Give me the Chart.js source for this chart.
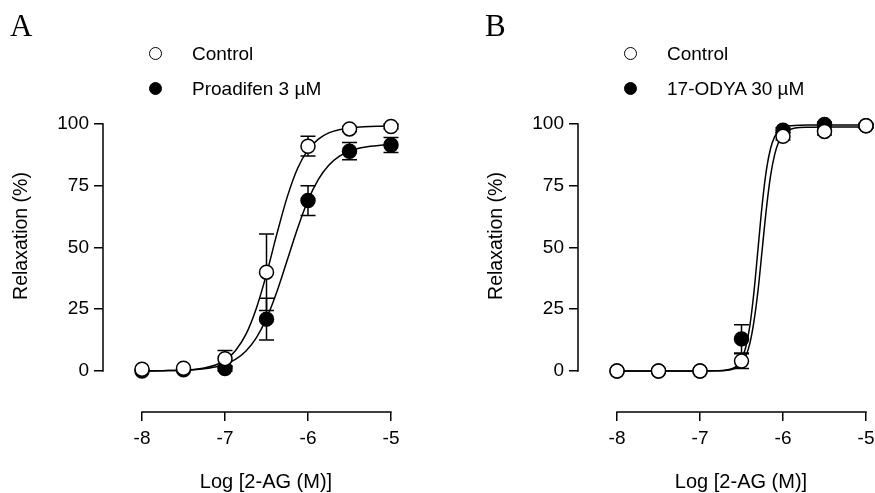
<!DOCTYPE html>
<html>
<head>
<meta charset="utf-8">
<script src="https://cdn.jsdelivr.net/npm/chart.js@4.4.1/dist/chart.umd.min.js"></script>
<style>
  body { margin: 0; background: #fff; }
  #wrap { position: relative; width: 875px; height: 493px; overflow: hidden; }
  canvas { position: absolute; left: 0; top: 0; }
  .txt { position: absolute; font-family: "Liberation Sans", Arial, sans-serif; color: #000; line-height: 1; white-space: nowrap; }
  .panel { position: absolute; font-family: "Liberation Serif", "Times New Roman", serif; font-size: 31px; line-height: 1; color: #000; }
  .dot { position: absolute; width: 13px; height: 13px; box-sizing: border-box; border: 1.5px solid #000; border-radius: 50%; background: #fff; }
  .dot.filled { background: #000; }
  .xtitle { width: 240px; text-align: center; font-size: 20px; }
  .ytitle { width: 200px; height: 20px; font-size: 19.5px; line-height: 20px; text-align: center; transform: rotate(-90deg); }
</style>
</head>
<body>
<div id="wrap">
  <canvas id="chartA" width="875" height="493"></canvas>
  <canvas id="chartB" width="875" height="493"></canvas>

  <div class="panel" style="left:10px;top:9.5px">A</div>
  <div class="panel" style="left:485px;top:9.5px">B</div>

  <div class="dot" style="left:148.5px;top:47px"></div>
  <div class="txt" style="left:192px;top:44px;font-size:19px">Control</div>
  <div class="dot filled" style="left:148.5px;top:82px"></div>
  <div class="txt" style="left:192px;top:79px;font-size:19px">Proadifen 3 &micro;M</div>

  <div class="dot" style="left:623.5px;top:47px"></div>
  <div class="txt" style="left:667px;top:44px;font-size:19px">Control</div>
  <div class="dot filled" style="left:623.5px;top:82px"></div>
  <div class="txt" style="left:667px;top:79px;font-size:19px">17-ODYA 30 &micro;M</div>

  <div class="txt ytitle" style="left:-80.5px;top:226px">Relaxation (%)</div>
  <div class="txt ytitle" style="left:394.5px;top:226px">Relaxation (%)</div>

  <div class="txt xtitle" style="left:146px;top:471px">Log [2-AG (M)]</div>
  <div class="txt xtitle" style="left:621px;top:471px">Log [2-AG (M)]</div>
</div>

<script>
// log dose of 2-AG
const doses = [-8, -7.5, -7, -6.5, -6, -5.5, -5];
const xTicks = [-8, -7, -6, -5];
const yTicks = [0, 25, 50, 75, 100];

// panel A: mean and SEM
const controlA = [0.7, 1.1, 5, 40, 91, 98, 99];
const controlAErr = [0, 0, 3.3, 15.5, 4, 1, 1];
const proadifen = [0, 0.5, 1, 21, 69, 89, 91.5];
const proadifenErr = [0, 0, 1, 8.5, 6, 3.5, 3];

// panel B: mean and SEM
const controlB = [0, 0, 0, 4, 95, 97, 99.3];
const controlBErr = [0, 0, 0, 3, 1.5, 1.5, 0.5];
const odya = [0, 0, 0, 13, 97.5, 99.8, 99.3];
const odyaErr = [0, 0, 0, 5.7, 1, 1, 1];

// fitted curves
const curveDosesA = [-8, -7.875, -7.75, -7.625, -7.5, -7.375, -7.25, -7.125, -7, -6.875, -6.75, -6.625, -6.5,
  -6.375, -6.25, -6.125, -6, -5.875, -5.75, -5.625, -5.5, -5.375, -5.25, -5.125, -5];
const controlFitA = [0.0, 0.0, 0.1, 0.2, 0.3, 0.6, 1.2, 2.3, 4.3, 8.2, 14.7, 25.1, 39.2,
  55.5, 70.5, 82.1, 89.5, 93.9, 96.4, 97.7, 98.4, 98.8, 99.0, 99.1, 99.2];
const proadifenFitA = [0.0, 0.1, 0.1, 0.2, 0.3, 0.5, 0.9, 1.6, 2.7, 4.7, 8.0, 13.3, 21.3,
  32.1, 44.9, 57.8, 69.1, 77.6, 83.3, 86.9, 89.0, 90.3, 91.0, 91.4, 91.7];

const curveDosesB = [-8, -7.75, -7.5, -7.25, -7, -6.8, -6.7, -6.6, -6.55, -6.5, -6.45, -6.4, -6.35, -6.3,
  -6.25, -6.2, -6.15, -6.1, -6.05, -6, -5.95, -5.9, -5.8, -5.7, -5.5, -5.25, -5];
const controlFitB = [0, 0, 0, 0, 0, 0.1, 0.2, 0.8, 1.6, 3.0, 5.9, 11.1, 20.1, 32.9,
  49.4, 65.8, 79.0, 87.7, 92.9, 95.8, 97.3, 98.0, 98.6, 98.7, 98.8, 98.8, 98.8];
const odyaFitB = [0, 0, 0, 0, 0, 0.1, 0.3, 1.1, 2.3, 4.7, 9.5, 18.2, 32.0, 49.8,
  67.6, 81.4, 90.1, 94.9, 97.3, 98.5, 99.1, 99.3, 99.5, 99.6, 99.6, 99.6, 99.6];

const FONT = '"Liberation Sans", Arial, sans-serif';

function pts(xs, ys) {
    return xs.map((x, i) => ({ x: x, y: ys[i] }));
}

// prism style axes (lines only over the tick range) + error bars
const prismAxes = {
    id: 'prismAxes',
    beforeDatasetsDraw(chart, args, opts) {
        const { ctx } = chart;
        const x = chart.scales.x, y = chart.scales.y;
        ctx.save();
        ctx.strokeStyle = '#000';
        ctx.lineWidth = 1.5;
        ctx.beginPath();
        ctx.moveTo(x.left, y.getPixelForValue(yTicks[yTicks.length - 1]) - 0.75);
        ctx.lineTo(x.left, y.getPixelForValue(yTicks[0]) + 0.75);
        ctx.moveTo(x.getPixelForValue(xTicks[0]) - 0.75, y.bottom);
        ctx.lineTo(x.getPixelForValue(xTicks[xTicks.length - 1]) + 0.75, y.bottom);
        ctx.stroke();

        ctx.lineWidth = 1.5;
        opts.series.forEach(s => {
            doses.forEach((d, i) => {
                const e = s.err[i];
                if (!e) return;
                const px = x.getPixelForValue(d);
                const top = y.getPixelForValue(s.mean[i] + e);
                const bot = y.getPixelForValue(s.mean[i] - e);
                ctx.beginPath();
                ctx.moveTo(px, top);
                ctx.lineTo(px, bot);
                ctx.moveTo(px - 7.5, top);
                ctx.lineTo(px + 7.5, top);
                ctx.moveTo(px - 7.5, bot);
                ctx.lineTo(px + 7.5, bot);
                ctx.stroke();
            });
        });
        ctx.restore();
    }
};

function makePanel(id, offsetX, ctrl, ctrlErr, trt, trtErr, fitX, ctrlFit, trtFit) {
    const axisStyle = {
        border: { display: false },
        grid: { drawOnChartArea: false, color: '#000', lineWidth: 1.5, tickLength: 9 }
    };
    return new Chart(document.getElementById(id), {
        type: 'scatter',
        data: {
            datasets: [
                { data: pts(doses, ctrl), pointRadius: 7, pointBackgroundColor: '#fff',
                  pointBorderColor: '#000', pointBorderWidth: 1.5, showLine: false, clip: false },
                { data: pts(doses, trt), pointRadius: 7, pointBackgroundColor: '#000',
                  pointBorderColor: '#000', pointBorderWidth: 1.5, showLine: false, clip: false },
                { data: pts(fitX, ctrlFit), showLine: true, pointRadius: 0, borderColor: '#000',
                  borderWidth: 1.5, cubicInterpolationMode: 'monotone', clip: false },
                { data: pts(fitX, trtFit), showLine: true, pointRadius: 0, borderColor: '#000',
                  borderWidth: 1.5, cubicInterpolationMode: 'monotone', clip: false }
            ]
        },
        options: {
            responsive: false,
            animation: false,
            events: [],
            layout: { padding: { left: offsetX, right: 484 - offsetX, top: 124, bottom: 0 } },
            plugins: {
                legend: { display: false },
                tooltip: { enabled: false },
                prismAxes: { series: [ { mean: ctrl, err: ctrlErr }, { mean: trt, err: trtErr } ] }
            },
            scales: {
                x: Object.assign({}, axisStyle, {
                    type: 'linear', min: -8.47, max: -5,
                    ticks: { color: '#000', font: { family: FONT, size: 19 }, padding: 6,
                             callback: v => String(v) },
                    afterBuildTicks: s => { s.ticks = xTicks.map(v => ({ value: v })); },
                    afterFit: s => { s.height = 81; s.paddingLeft = 0; s.paddingRight = 0; }
                }),
                y: Object.assign({}, axisStyle, {
                    type: 'linear', min: -16.6, max: 100,
                    ticks: { color: '#000', font: { family: FONT, size: 19 }, padding: 5,
                             callback: v => String(v) },
                    afterBuildTicks: s => { s.ticks = yTicks.map(v => ({ value: v })); },
                    afterFit: s => { s.width = 103; s.paddingTop = 0; s.paddingBottom = 0; }
                })
            }
        },
        plugins: [prismAxes]
    });
}

makePanel('chartA', 0, controlA, controlAErr, proadifen, proadifenErr, curveDosesA, controlFitA, proadifenFitA);
makePanel('chartB', 475, controlB, controlBErr, odya, odyaErr, curveDosesB, controlFitB, odyaFitB);
</script>
</body>
</html>
